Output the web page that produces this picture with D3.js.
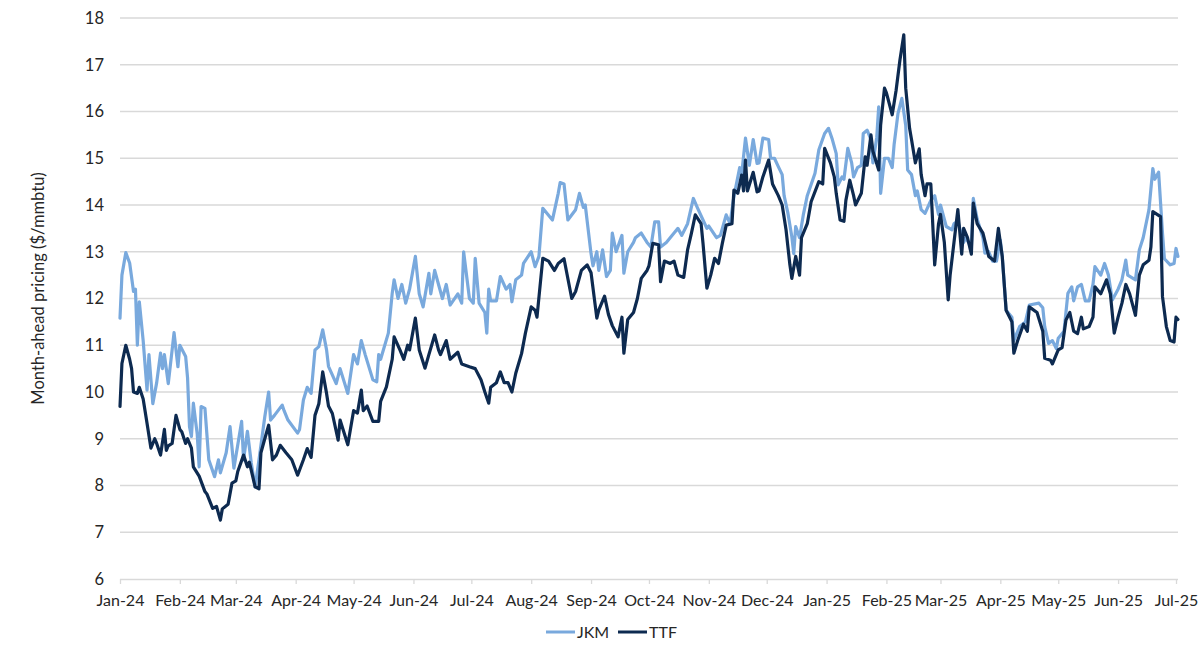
<!DOCTYPE html>
<html>
<head>
<meta charset="utf-8">
<script src="https://cdn.jsdelivr.net/npm/d3@7"></script>
<style>
  body { margin: 0; background: #fff; }
  svg text { font-family: Lato, "Open Sans", sans-serif; fill: #262626; }
</style>
</head>
<body>
<div id="chart"></div>
<script>
// Month-ahead LNG pricing, $/mmbtu
const jkm = [
  ["2024-01-01",11.58],["2024-01-02",12.5],["2024-01-04",12.98],["2024-01-06",12.76],["2024-01-08",12.15],
  ["2024-01-09",12.2],["2024-01-10",11.0],["2024-01-11",11.93],["2024-01-13",11.1],["2024-01-15",10.04],
  ["2024-01-16",10.8],["2024-01-18",9.75],["2024-01-20",10.2],["2024-01-22",10.83],["2024-01-23",10.5],
  ["2024-01-24",10.8],["2024-01-26",10.18],["2024-01-28",10.9],["2024-01-29",11.27],["2024-01-31",10.54],
  ["2024-02-01",11.0],["2024-02-04",10.76],["2024-02-05",10.3],["2024-02-06",9.26],["2024-02-07",9.05],
  ["2024-02-08",9.76],["2024-02-10",9.1],["2024-02-11",8.4],["2024-02-12",9.69],["2024-02-14",9.65],
  ["2024-02-16",8.55],["2024-02-19",8.19],["2024-02-21",8.55],["2024-02-22",8.27],["2024-02-25",8.7],
  ["2024-02-27",9.26],["2024-02-29",8.37],["2024-03-04",9.37],["2024-03-05",8.55],["2024-03-07",9.16],
  ["2024-03-09",8.48],["2024-03-11",7.97],["2024-03-13",8.55],["2024-03-16",9.47],["2024-03-18",10.0],
  ["2024-03-19",9.4],["2024-03-21",9.5],["2024-03-25",9.72],["2024-03-26",9.6],["2024-03-28",9.4],
  ["2024-04-02",9.12],["2024-04-03",9.2],["2024-04-05",9.83],["2024-04-07",10.1],["2024-04-09",9.97],
  ["2024-04-11",10.9],["2024-04-13",10.97],["2024-04-15",11.33],["2024-04-17",10.9],["2024-04-18",10.55],
  ["2024-04-22",10.18],["2024-04-24",10.5],["2024-04-28",9.97],["2024-05-01",10.8],["2024-05-03",10.6],
  ["2024-05-05",11.1],["2024-05-07",10.8],["2024-05-11",10.26],["2024-05-13",10.22],["2024-05-14",10.8],
  ["2024-05-15",10.7],["2024-05-19",11.26],["2024-05-21",12.11],["2024-05-22",12.4],["2024-05-24",12.0],
  ["2024-05-26",12.3],["2024-05-28",11.9],["2024-05-30",12.2],["2024-06-02",12.9],["2024-06-04",12.1],
  ["2024-06-06",11.82],["2024-06-09",12.54],["2024-06-10",12.1],["2024-06-12",12.6],["2024-06-14",12.3],
  ["2024-06-16",12.0],["2024-06-18",12.3],["2024-06-20",11.86],["2024-06-24",12.1],["2024-06-26",11.9],
  ["2024-06-27",13.0],["2024-06-30",12.0],["2024-07-02",11.9],["2024-07-03",12.86],["2024-07-05",11.9],
  ["2024-07-08",11.7],["2024-07-09",11.26],["2024-07-10",12.2],["2024-07-11",11.95],["2024-07-14",11.95],
  ["2024-07-16",12.47],["2024-07-19",12.2],["2024-07-21",12.3],["2024-07-22",11.93],["2024-07-24",12.4],
  ["2024-07-27",12.5],["2024-07-28",12.75],["2024-08-01",13.0],["2024-08-03",12.68],["2024-08-05",12.9],
  ["2024-08-07",13.93],["2024-08-12",13.68],["2024-08-15",14.25],["2024-08-16",14.48],["2024-08-18",14.45],
  ["2024-08-20",13.68],["2024-08-24",13.9],["2024-08-26",14.25],["2024-08-28",13.95],["2024-08-29",14.0],
  ["2024-09-01",12.96],["2024-09-02",12.7],["2024-09-04",13.0],["2024-09-05",12.6],["2024-09-07",13.04],
  ["2024-09-09",12.47],["2024-09-11",12.6],["2024-09-12",13.4],["2024-09-14",13.0],["2024-09-17",13.35],
  ["2024-09-18",12.54],["2024-09-20",13.0],["2024-09-23",13.2],["2024-09-24",13.3],["2024-09-27",13.4],
  ["2024-09-30",13.2],["2024-10-02",13.1],["2024-10-04",13.64],["2024-10-06",13.64],["2024-10-07",13.1],
  ["2024-10-10",13.2],["2024-10-12",13.3],["2024-10-14",13.4],["2024-10-16",13.5],["2024-10-18",13.35],
  ["2024-10-21",13.6],["2024-10-24",14.14],["2024-10-26",13.95],["2024-10-29",13.68],["2024-10-31",13.5],
  ["2024-11-01",13.55],["2024-11-05",13.3],["2024-11-07",13.35],["2024-11-10",13.79],["2024-11-12",13.6],
  ["2024-11-14",14.18],["2024-11-17",14.8],["2024-11-18",14.65],["2024-11-20",15.43],["2024-11-22",14.85],
  ["2024-11-24",15.4],["2024-11-26",14.89],["2024-11-27",14.9],["2024-11-29",15.43],["2024-12-02",15.4],
  ["2024-12-03",15.0],["2024-12-05",15.0],["2024-12-07",14.82],["2024-12-09",14.65],["2024-12-10",14.2],
  ["2024-12-12",13.82],["2024-12-14",13.32],["2024-12-15",12.96],["2024-12-16",13.54],["2024-12-18",13.3],
  ["2024-12-20",13.8],["2024-12-22",14.2],["2024-12-26",14.68],["2024-12-28",15.18],["2024-12-31",15.53],
  ["2025-01-02",15.64],["2025-01-04",15.4],["2025-01-06",15.1],["2025-01-07",14.43],["2025-01-09",14.6],
  ["2025-01-10",14.55],["2025-01-12",15.21],["2025-01-14",14.9],["2025-01-15",14.6],["2025-01-17",14.8],
  ["2025-01-19",14.85],["2025-01-20",15.53],["2025-01-22",15.6],["2025-01-24",15.4],["2025-01-25",14.9],
  ["2025-01-27",15.45],["2025-01-28",16.1],["2025-01-29",14.25],["2025-01-31",15.0],["2025-02-02",15.0],
  ["2025-02-04",14.8],["2025-02-05",15.3],["2025-02-07",15.96],["2025-02-09",16.28],["2025-02-11",15.7],
  ["2025-02-12",14.75],["2025-02-14",14.65],["2025-02-16",14.2],["2025-02-17",14.3],["2025-02-19",13.9],
  ["2025-02-21",13.82],["2025-02-24",14.1],["2025-02-26",14.2],["2025-02-28",13.8],["2025-03-01",14.0],
  ["2025-03-04",13.54],["2025-03-07",13.47],["2025-03-08",13.6],["2025-03-10",13.65],["2025-03-13",13.2],
  ["2025-03-14",13.3],["2025-03-17",13.1],["2025-03-18",14.14],["2025-03-20",13.7],["2025-03-23",13.3],
  ["2025-03-24",12.97],["2025-03-26",13.0],["2025-03-28",12.8],["2025-03-30",12.8],["2025-04-01",13.25],
  ["2025-04-02",12.9],["2025-04-04",11.75],["2025-04-07",11.6],["2025-04-08",11.1],["2025-04-11",11.4],
  ["2025-04-14",11.5],["2025-04-16",11.86],["2025-04-21",11.9],["2025-04-23",11.8],["2025-04-24",11.4],
  ["2025-04-26",11.04],["2025-04-28",11.1],["2025-04-30",10.93],["2025-05-01",11.15],["2025-05-04",11.3],
  ["2025-05-06",12.11],["2025-05-08",12.25],["2025-05-09",11.95],["2025-05-11",12.25],["2025-05-13",12.3],
  ["2025-05-15",11.95],["2025-05-17",11.95],["2025-05-19",12.3],["2025-05-20",12.68],["2025-05-23",12.5],
  ["2025-05-25",12.75],["2025-05-27",12.5],["2025-05-29",11.97],["2025-06-01",12.2],["2025-06-03",12.4],
  ["2025-06-05",12.82],["2025-06-06",12.5],["2025-06-10",12.4],["2025-06-12",13.04],["2025-06-14",13.3],
  ["2025-06-17",13.9],["2025-06-19",14.78],["2025-06-20",14.55],["2025-06-22",14.7],["2025-06-24",13.4],
  ["2025-06-25",12.85],["2025-06-28",12.72],["2025-06-30",12.75],["2025-07-01",13.07],["2025-07-02",12.9]
];

const ttf = [
  ["2024-01-01",9.69],["2024-01-02",10.61],["2024-01-04",11.0],["2024-01-06",10.7],["2024-01-07",10.5],
  ["2024-01-08",10.0],["2024-01-10",9.97],["2024-01-11",10.1],["2024-01-13",9.85],["2024-01-15",9.33],
  ["2024-01-17",8.8],["2024-01-19",9.0],["2024-01-20",8.9],["2024-01-22",8.65],["2024-01-24",9.2],
  ["2024-01-25",8.75],["2024-01-26",8.85],["2024-01-28",8.9],["2024-01-30",9.5],["2024-02-01",9.2],
  ["2024-02-02",9.15],["2024-02-04",8.9],["2024-02-05",9.0],["2024-02-07",8.8],["2024-02-08",8.4],
  ["2024-02-11",8.2],["2024-02-14",7.87],["2024-02-15",7.82],["2024-02-18",7.51],["2024-02-20",7.55],
  ["2024-02-22",7.26],["2024-02-23",7.5],["2024-02-26",7.6],["2024-02-28",8.05],["2024-03-01",8.1],
  ["2024-03-02",8.3],["2024-03-05",8.65],["2024-03-07",8.4],["2024-03-08",8.5],["2024-03-11",7.97],
  ["2024-03-13",7.93],["2024-03-14",8.7],["2024-03-16",9.0],["2024-03-18",9.29],["2024-03-20",8.55],
  ["2024-03-22",8.65],["2024-03-24",8.86],["2024-03-27",8.7],["2024-03-30",8.55],["2024-04-02",8.22],
  ["2024-04-05",8.55],["2024-04-07",8.79],["2024-04-09",8.6],["2024-04-11",9.5],["2024-04-13",9.75],
  ["2024-04-15",10.43],["2024-04-17",9.97],["2024-04-18",9.7],["2024-04-20",9.54],["2024-04-23",8.97],
  ["2024-04-24",9.4],["2024-04-28",8.87],["2024-05-01",9.6],["2024-05-03",9.55],["2024-05-05",10.04],
  ["2024-05-06",9.6],["2024-05-08",9.7],["2024-05-11",9.37],["2024-05-14",9.37],["2024-05-15",9.8],
  ["2024-05-18",10.11],["2024-05-21",10.7],["2024-05-22",11.18],["2024-05-25",10.9],["2024-05-27",10.7],
  ["2024-05-29",11.0],["2024-05-30",10.9],["2024-06-02",11.58],["2024-06-04",10.9],["2024-06-07",10.51],
  ["2024-06-09",10.8],["2024-06-12",11.22],["2024-06-14",10.9],["2024-06-15",10.8],["2024-06-18",11.1],
  ["2024-06-20",10.7],["2024-06-24",10.85],["2024-06-26",10.6],["2024-06-30",10.54],["2024-07-03",10.5],
  ["2024-07-06",10.26],["2024-07-08",10.0],["2024-07-10",9.76],["2024-07-11",10.1],["2024-07-14",10.2],
  ["2024-07-16",10.43],["2024-07-18",10.2],["2024-07-20",10.2],["2024-07-22",10.0],["2024-07-24",10.4],
  ["2024-07-27",10.82],["2024-07-29",11.26],["2024-08-01",11.82],["2024-08-03",11.75],["2024-08-04",11.6],
  ["2024-08-07",12.86],["2024-08-10",12.8],["2024-08-13",12.6],["2024-08-15",12.75],["2024-08-18",12.85],
  ["2024-08-22",12.0],["2024-08-24",12.15],["2024-08-27",12.6],["2024-08-30",12.72],["2024-09-01",12.55],
  ["2024-09-04",11.58],["2024-09-05",11.75],["2024-09-08",12.05],["2024-09-10",11.66],["2024-09-12",11.42],
  ["2024-09-15",11.18],["2024-09-17",11.6],["2024-09-18",10.83],["2024-09-20",11.55],["2024-09-23",11.7],
  ["2024-09-25",12.0],["2024-09-27",12.43],["2024-09-30",12.6],["2024-10-01",12.7],["2024-10-03",13.18],
  ["2024-10-06",13.15],["2024-10-07",12.36],["2024-10-09",12.8],["2024-10-12",12.75],["2024-10-14",12.8],
  ["2024-10-16",12.5],["2024-10-19",12.45],["2024-10-21",13.04],["2024-10-23",13.4],["2024-10-25",13.79],
  ["2024-10-28",13.6],["2024-10-29",13.18],["2024-10-31",12.22],["2024-11-02",12.5],["2024-11-04",12.86],
  ["2024-11-06",12.75],["2024-11-08",13.18],["2024-11-10",13.57],["2024-11-13",13.6],["2024-11-14",14.32],
  ["2024-11-16",14.25],["2024-11-18",14.64],["2024-11-19",14.3],["2024-11-20",14.96],["2024-11-21",14.3],
  ["2024-11-24",14.7],["2024-11-26",14.28],["2024-11-27",14.3],["2024-11-29",14.6],["2024-12-02",14.96],
  ["2024-12-04",14.45],["2024-12-07",14.2],["2024-12-09",14.0],["2024-12-11",13.47],["2024-12-13",12.72],
  ["2024-12-14",12.43],["2024-12-16",12.9],["2024-12-18",12.5],["2024-12-19",13.3],["2024-12-22",13.6],
  ["2024-12-24",14.07],["2024-12-28",14.5],["2024-12-30",14.45],["2024-12-31",15.21],["2025-01-03",14.9],
  ["2025-01-05",14.6],["2025-01-06",14.25],["2025-01-08",13.68],["2025-01-10",13.65],["2025-01-11",14.1],
  ["2025-01-13",14.53],["2025-01-15",14.2],["2025-01-16",14.0],["2025-01-19",14.25],["2025-01-21",15.03],
  ["2025-01-22",14.85],["2025-01-24",15.5],["2025-01-25",15.15],["2025-01-28",14.75],["2025-01-29",15.71],
  ["2025-01-31",16.5],["2025-02-01",16.4],["2025-02-04",15.93],["2025-02-06",16.45],["2025-02-08",17.1],
  ["2025-02-10",17.64],["2025-02-11",16.5],["2025-02-13",15.64],["2025-02-14",15.4],["2025-02-16",14.9],
  ["2025-02-18",15.2],["2025-02-19",14.65],["2025-02-21",14.2],["2025-02-22",14.45],["2025-02-24",14.45],
  ["2025-02-26",12.72],["2025-02-28",13.6],["2025-03-01",13.8],["2025-03-03",13.2],["2025-03-05",11.97],
  ["2025-03-06",12.5],["2025-03-10",13.9],["2025-03-12",12.95],["2025-03-13",13.5],["2025-03-15",13.3],
  ["2025-03-17",12.95],["2025-03-18",14.04],["2025-03-20",13.6],["2025-03-23",13.4],["2025-03-26",12.9],
  ["2025-03-29",12.8],["2025-03-31",13.5],["2025-04-02",12.9],["2025-04-04",11.75],["2025-04-07",11.5],
  ["2025-04-08",10.83],["2025-04-10",11.1],["2025-04-13",11.45],["2025-04-15",11.3],["2025-04-16",11.82],
  ["2025-04-20",11.7],["2025-04-23",11.3],["2025-04-24",10.72],["2025-04-27",10.68],["2025-04-28",10.6],
  ["2025-05-01",10.9],["2025-05-03",10.95],["2025-05-05",11.54],["2025-05-07",11.7],["2025-05-09",11.3],
  ["2025-05-11",11.25],["2025-05-13",11.6],["2025-05-14",11.35],["2025-05-17",11.4],["2025-05-19",11.6],
  ["2025-05-20",12.25],["2025-05-23",12.1],["2025-05-26",12.4],["2025-05-28",12.1],["2025-05-30",11.26],
  ["2025-06-01",11.6],["2025-06-03",11.9],["2025-06-05",12.3],["2025-06-07",12.1],["2025-06-10",11.64],
  ["2025-06-12",12.5],["2025-06-14",12.72],["2025-06-17",12.82],["2025-06-18",13.1],["2025-06-19",13.86],
  ["2025-06-23",13.75],["2025-06-24",12.04],["2025-06-26",11.4],["2025-06-28",11.1],["2025-06-30",11.07],
  ["2025-07-01",11.6],["2025-07-02",11.55]
];

const yTicks = [6, 7, 8, 9, 10, 11, 12, 13, 14, 15, 16, 17, 18];
const xStart = "2024-01-01";
const xEnd = "2025-07-01";
const seriesNames = ["JKM", "TTF"];
const seriesColors = ["#79a9dd", "#0d2a50"];

const width = 1200, height = 660;
const margin = { top: 18, right: 24, bottom: 81, left: 120 };

const parse = d3.timeParse("%Y-%m-%d");
const x = d3.scaleTime()
  .domain([parse(xStart), parse(xEnd)])
  .range([margin.left, width - margin.right]);
const y = d3.scaleLinear()
  .domain([6, 18])
  .range([height - margin.bottom, margin.top]);

const svg = d3.select('#chart').append('svg')
  .attr('width', width)
  .attr('height', height);

// gridlines
svg.append('g')
  .selectAll('line')
  .data(yTicks.slice(1))
  .enter().append('line')
  .attr('x1', margin.left)
  .attr('x2', width - margin.right + 2)
  .attr('y1', d => y(d))
  .attr('y2', d => y(d))
  .style('stroke', '#d9d9d9')
  .style('stroke-width', 1.3);

// y axis labels
const yAxis = svg.append('g')
  .attr('transform', `translate(${margin.left},0)`)
  .call(d3.axisLeft(y).tickValues(yTicks).tickSize(0).tickPadding(16));
yAxis.select('.domain').remove();
yAxis.selectAll('text').style('font-size', '16.5px').style('fill', '#262626');

// x axis, a tick at each month start
const months = d3.timeMonth.range(parse(xStart), d3.timeDay.offset(parse(xEnd), 1));
const xAxis = svg.append('g')
  .attr('transform', `translate(0,${y(6)})`)
  .call(d3.axisBottom(x).tickValues(months).tickFormat(d3.timeFormat('%b-%y'))
    .tickSize(5).tickSizeOuter(0).tickPadding(11));
xAxis.select('.domain')
  .attr('d', `M${margin.left},0.5H${width - margin.right + 2}`)
  .style('stroke', '#d9d9d9').style('stroke-width', 1.3);
xAxis.selectAll('.tick line').style('stroke', '#d9d9d9').style('stroke-width', 1.3);
xAxis.selectAll('text').style('font-size', '16px').style('fill', '#262626');

// y axis title
svg.append('text')
  .attr('transform', `translate(44,${(y(6) + y(18)) / 2 - 10}) rotate(-90)`)
  .style('text-anchor', 'middle')
  .style('font-size', '16.5px')
  .text('Month-ahead pricing ($/mmbtu)');

// lines
const line = d3.line()
  .x(d => x(parse(d[0])))
  .y(d => y(d[1]));

[jkm, ttf].forEach((series, i) => {
  svg.append('path')
    .datum(series)
    .attr('d', line)
    .style('fill', 'none')
    .style('stroke', seriesColors[i])
    .style('stroke-width', 3.2)
    .style('stroke-linejoin', 'round')
    .style('stroke-linecap', 'round');
});

// legend
const legend = svg.append('g').attr('transform', `translate(546,632)`);
const legendX = [0, 72];
seriesNames.forEach((name, i) => {
  const g = legend.append('g').attr('transform', `translate(${legendX[i]},0)`);
  g.append('line')
    .attr('x1', 0).attr('x2', 29).attr('y1', 0).attr('y2', 0)
    .style('stroke', seriesColors[i])
    .style('stroke-width', 3);
  g.append('text')
    .attr('x', 31)
    .attr('y', 5.5)
    .style('font-size', '16px')
    .text(name);
});
</script>
</body>
</html>
